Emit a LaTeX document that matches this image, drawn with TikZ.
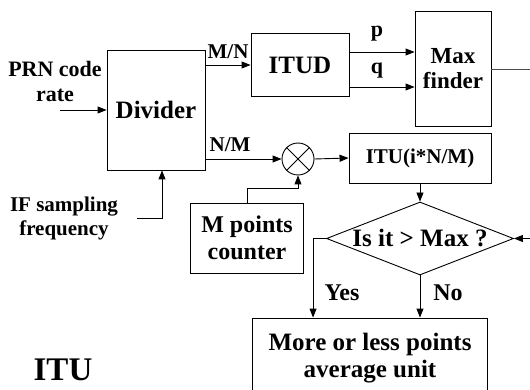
\documentclass[tikz,border=0pt]{standalone}
\usepackage{fontspec}
\setmainfont{Liberation Serif}
\usetikzlibrary{arrows.meta,shapes.geometric,calc}

\tikzset{
  blk/.style={draw, line width=0.9pt, inner sep=0pt, align=center},
  lbl/.style={inner sep=0pt, align=center},
  wire/.style={line width=0.9pt},
  arr/.style={wire, -{Triangle[length=9pt,width=7pt]}}
}
\newcommand{\fs}[1]{\fontsize{#1}{#1}\selectfont\bfseries}

\begin{document}
\begin{tikzpicture}[x=1pt, y=-1pt]
    \useasboundingbox (0,0) rectangle (530,390);
    \clip (0,0) rectangle (530,390);

    % blocks
    \node[blk, minimum width=98, minimum height=120, font=\fs{25}] (div) at (156,110) {Divider};
    \node[blk, minimum width=98, minimum height=63, font=\fs{25}] (itud) at (300,65) {ITUD};
    \node[blk, minimum width=76, minimum height=115, font=\fs{23}] (maxf) at (453,68.5) {Max\\[2pt]finder};
    \node[blk, minimum width=142, minimum height=50, font=\fs{21}] (itu) at (420,158) {ITU(i*N/M)};
    \node[blk, circle, minimum size=32] (mul) at (298,159) {};
    \draw[wire] (mul.north west) -- (mul.south east) (mul.north east) -- (mul.south west);
    \node[blk, diamond, aspect=2.56, minimum width=187, minimum height=73, font=\fs{25}] (isit) at (420,238.5) {Is it > Max ?};
    \node[blk, minimum width=113, minimum height=70, font=\fs{24}] (cnt) at (247,238) {M points\\[3pt]counter};
    \node[blk, minimum width=235, minimum height=80, font=\fs{25}] (avg) at (370,358) {More or less points\\[2pt]average unit};

    % labels
    \node[lbl, font=\fs{22}] (prn) at (55,81) {PRN code\\[3pt]rate};
    \node[lbl, font=\fs{21}] (iff) at (64,218) {IF sampling\\[3pt]frequency};
    \node[lbl, font=\fs{33}] (title) at (63,370) {ITU};
    \node[lbl, font=\fs{21}] (mn) at (228,52) {M/N};
    \node[lbl, font=\fs{21}] (nm) at (230,145) {N/M};
    \node[lbl, font=\fs{22}] (pl) at (377,34) {p};
    \node[lbl, font=\fs{22}] (ql) at (377,71) {q};
    \node[lbl, font=\fs{24}] (yes) at (342,293) {Yes};
    \node[lbl, font=\fs{24}] (no) at (448,293) {No};

    % free ends
    \coordinate (prnin) at (60,110);
    \coordinate (iffin) at (137,218);
    \coordinate (pout) at ($(itud.east)+(0,-13)$);
    \coordinate (qout) at ($(itud.east)+(0,22)$);
    \coordinate (rt) at (545,69);

    % connectors
    \draw[arr] (prnin) -- (div.west);
    \draw[arr] (iffin) -| ([xshift=6pt]div.south);
    \draw[arr] (div.east |- itud.west) -- (itud.west);
    \draw[arr] (div.east |- mul.west) -- (mul.west);
    \draw[arr] (pout) -- (pout -| maxf.west);
    \draw[arr] (qout) -- (qout -| maxf.west);
    \draw[wire, black!70] (maxf.east |- rt) -- (rt);
    \draw[arr] (rt) |- (isit.east);
    \draw[arr] (mul.east) -- (itu.west);
    \draw[arr] (cnt.north) -- ++(0,-14) -| (mul.south);
    \draw[arr] (itu.south) -- (isit.north);
    \draw[arr] (isit.west) -| ($(avg.north west)+(61,0)$);
    \draw[arr] (isit.south) -- (isit.south |- avg.north);
\end{tikzpicture}
\end{document}
